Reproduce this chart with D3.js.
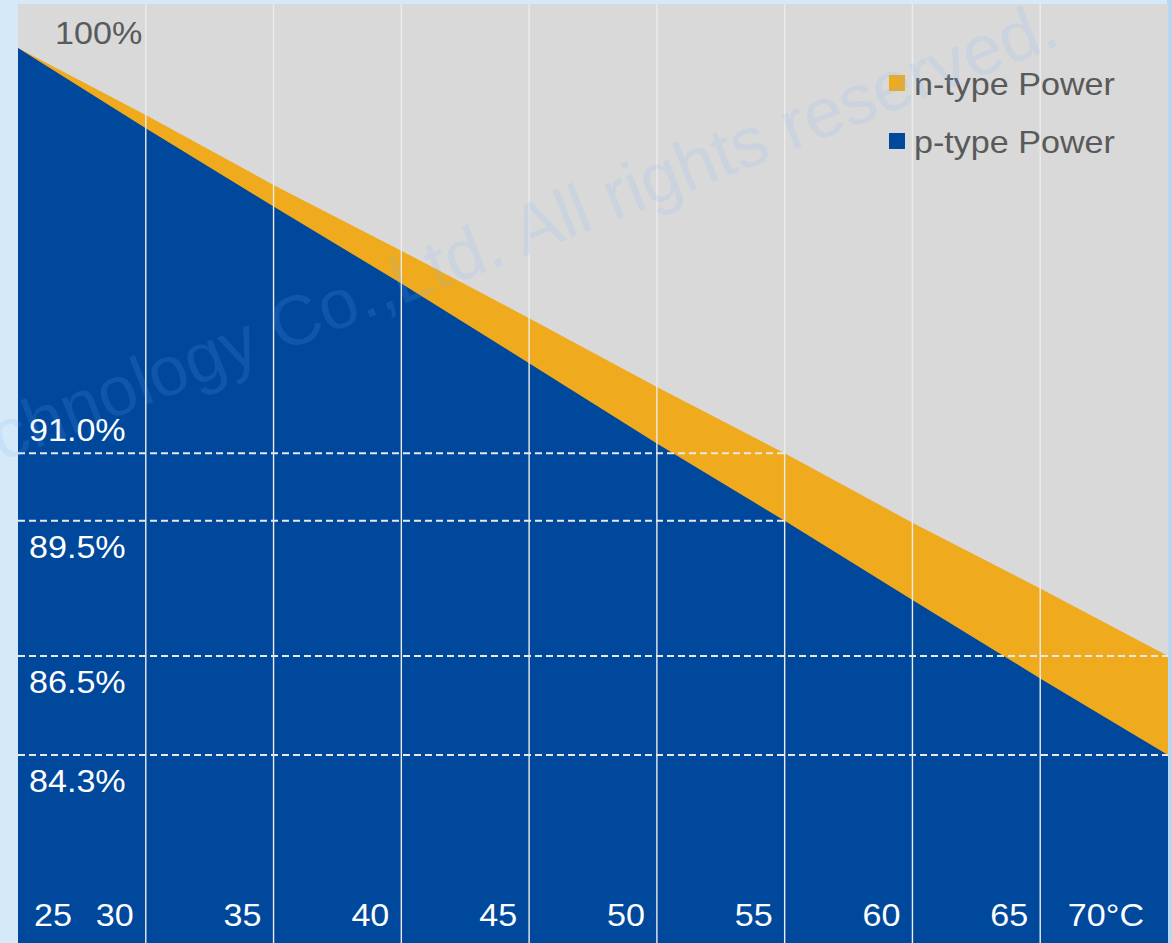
<!DOCTYPE html>
<html>
<head>
<meta charset="utf-8">
<script src="https://cdn.jsdelivr.net/npm/d3@7"></script>
<style>
  html, body { margin: 0; padding: 0; background: #d6e9f8; }
  svg { display: block; }
  text { font-family: "Liberation Sans", Arial, Helvetica, sans-serif; }
</style>
</head>
<body>
<svg id="chart" width="1172" height="943"></svg>
<script>
// Module temperature (°C) and relative output power (%)
const temps = [25, 30, 35, 40, 45, 50, 55, 60, 65, 70];
const tempLabels = ["25", "30", "35", "40", "45", "50", "55", "60", "65", "70°C"];
const nTypePower = [100, 98.51, 96.96, 95.50, 94.00, 92.47, 91.0, 89.46, 88.00, 86.5];
const pTypePower = [100, 98.22, 96.48, 94.77, 93.00, 91.22, 89.5, 87.74, 86.00, 84.3];

// Reference levels marked with dashed lines, and the temperature each line runs to
const refValues = [91.0, 89.5, 86.5, 84.3];
const refLabels = ["91.0%", "89.5%", "86.5%", "84.3%"];
const refUntil = [55, 55, 70, 70];
const topLabel = "100%";

const seriesNames = ["n-type Power", "p-type Power"];
const seriesColors = ["#f0aa1e", "#00489c"];

const W = 1172, H = 943;
const plot = { left: 18, right: 1168, top: 4, bottom: 943 };
const SX = 1.1; // horizontal stretch of the label type

const svg = d3.select("#chart");

svg.append("rect").attr("width", W).attr("height", H).attr("fill", "#d6e9f8");
svg.append("rect")
  .attr("x", W - 5).attr("width", 5).attr("height", H).attr("fill", "#b7d7f1");

const x = d3.scaleLinear().domain([25, 70]).range([plot.left, plot.right]);
const y = d3.scaleLinear().domain([84.3, 100]).range([755, 48]);

svg.append("rect")
  .attr("x", plot.left).attr("y", plot.top)
  .attr("width", plot.right - plot.left).attr("height", plot.bottom - plot.top)
  .attr("fill", "#d9d9d9");

const nData = temps.map((t, i) => ({ t, v: nTypePower[i] }));
const pData = temps.map((t, i) => ({ t, v: pTypePower[i] }));

const area = d3.area()
  .x(d => x(d.t))
  .y0(plot.bottom)
  .y1(d => y(d.v));

svg.append("path").datum(nData).attr("d", area).attr("fill", seriesColors[0]);
svg.append("path").datum(pData).attr("d", area).attr("fill", seriesColors[1]);

// vertical grid lines at each inner temperature
svg.append("g")
  .selectAll("line")
  .data(temps.slice(1, -1))
  .join("line")
  .attr("x1", d => x(d)).attr("x2", d => x(d))
  .attr("y1", plot.top).attr("y2", plot.bottom)
  .attr("stroke", "#ececec")
  .attr("stroke-width", 1.4);

// dashed reference levels
svg.append("g")
  .selectAll("line")
  .data(refValues)
  .join("line")
  .attr("x1", plot.left)
  .attr("x2", (d, i) => x(refUntil[i]))
  .attr("y1", d => y(d)).attr("y2", d => y(d))
  .attr("stroke", "#e8e8e8")
  .attr("stroke-width", 2)
  .attr("stroke-dasharray", "7,4");

function label(str, px, py, anchor, fill) {
  return svg.append("text")
    .attr("transform", `translate(${px},${py}) scale(${SX},1)`)
    .attr("text-anchor", anchor)
    .attr("font-size", 31)
    .attr("fill", fill)
    .text(str);
}

// y labels
label(topLabel, x(25) + 37, y(100) - 4.5, "start", "#5a5a5a");
refValues.forEach((v, i) => {
  const py = i === 0 ? y(v) - 12 : y(v) + 37;
  label(refLabels[i], plot.left + 11, py, "start", "#ffffff");
});

// temperature labels along the bottom
temps.forEach((t, i) => {
  if (i === 0) {
    label(tempLabels[i], x(t) + 16, 926, "start", "#ffffff");
  } else {
    label(tempLabels[i], Math.min(x(t) - 12, plot.right - 24), 926, "end", "#ffffff");
  }
});

// legend
const legend = svg.append("g");
seriesNames.forEach((name, i) => {
  const ly = 75 + i * 58;
  legend.append("rect")
    .attr("x", 889).attr("y", ly).attr("width", 16).attr("height", 16)
    .attr("fill", seriesColors[i]);
  legend.append("text")
    .attr("transform", `translate(914,${ly + 20}) scale(${SX},1)`)
    .attr("font-size", 31)
    .attr("fill", "#5a5a5a")
    .text(name);
});

// copyright watermark
svg.append("text")
  .attr("transform", "translate(2,462) rotate(-21.5)")
  .attr("font-size", 70)
  .attr("fill", "#6fb0ff")
  .attr("fill-opacity", 0.14)
  .text("chnology Co.,Ltd. All rights reserved.");
</script>
</body>
</html>
